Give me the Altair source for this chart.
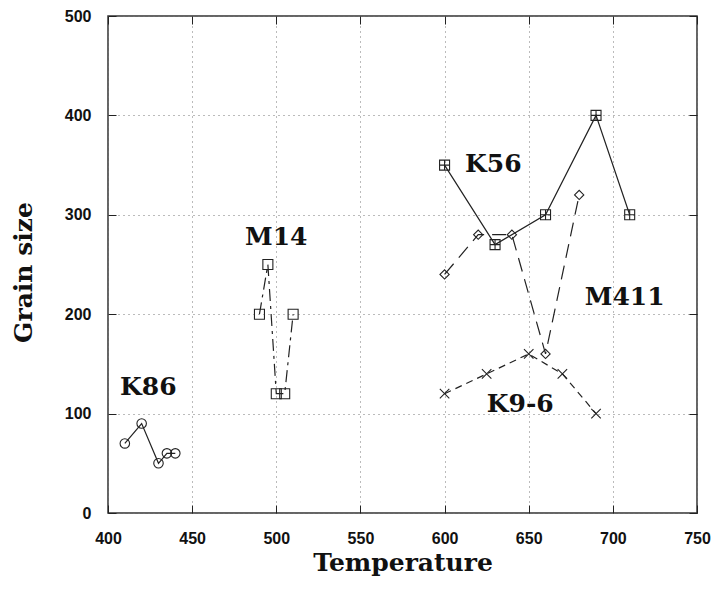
import altair as alt
import pandas as pd

# ---- data ----
k86_x = [410, 420, 430, 435, 440]
k86_y = [70, 90, 50, 60, 60]

m14_x = [490, 495, 500, 505, 510]
m14_y = [200, 250, 120, 120, 200]

k56_x = [600, 630, 660, 690, 710]
k56_y = [350, 270, 300, 400, 300]

m411_x = [600, 620, 640, 660, 680]
m411_y = [240, 280, 280, 160, 320]

k96_x = [600, 625, 650, 670, 690]
k96_y = [120, 140, 160, 140, 100]

label_text = ["K86", "M14", "K56", "M411", "K9-6"]
label_x = [424, 500, 629, 707, 645]
label_y = [119, 270, 343, 209, 102]

x_ticks = [400, 450, 500, 550, 600, 650, 700, 750]
y_ticks = [0, 100, 200, 300, 400, 500]

INK = "#222222"

xscale = alt.Scale(domain=[400, 750], nice=False, zero=False)
yscale = alt.Scale(domain=[0, 500], nice=False)

xaxis = alt.Axis(values=x_ticks, orient="bottom", offset=-8, tickSize=8, tickColor=INK,
                 tickWidth=1, domain=False, grid=True, gridColor="#777777",
                 gridDash=[1, 4], gridWidth=1, labelFont="Liberation Sans",
                 labelFontWeight="bold", labelFontSize=16, labelColor="#111111",
                 labelPadding=17, labelFlush=False, title="Temperature",
                 titleFont="DejaVu Serif", titleFontWeight="bold", titleFontSize=25,
                 titleColor="#111111", titlePadding=4)
yaxis = alt.Axis(values=y_ticks, orient="left", offset=-8, tickSize=8, tickColor=INK,
                 tickWidth=1, domain=False, grid=True, gridColor="#777777",
                 gridDash=[1, 4], gridWidth=1, labelFont="Liberation Sans",
                 labelFontWeight="bold", labelFontSize=16, labelColor="#111111",
                 labelPadding=17, labelFlush=False, title="Grain size",
                 titleFont="DejaVu Serif", titleFontWeight="bold", titleFontSize=25,
                 titleColor="#111111", titlePadding=28, titleY=256)


def series(xs, ys, dash, shape, size):
    df = pd.DataFrame({"x": xs, "y": ys, "o": list(range(len(xs)))})
    base = alt.Chart(df).encode(
        x=alt.X("x:Q", scale=xscale, axis=xaxis),
        y=alt.Y("y:Q", scale=yscale, axis=yaxis),
        order="o:Q",
    )
    line_kw = dict(color=INK, strokeWidth=1.2)
    if dash:
        line_kw["strokeDash"] = dash
    line = base.mark_line(**line_kw)
    pts = base.mark_point(shape=shape, size=size, filled=False, color=INK,
                          strokeWidth=1.1, opacity=1)
    return [line, pts]


SQ_PLUS = "M-1,-1H1V1H-1Z M-1,0H1 M0,-1V1"
CROSS_X = "M-1,-1L1,1M-1,1L1,-1"

layers = []
layers += series(k86_x, k86_y, None, "circle", 90)
layers += series(m14_x, m14_y, [12, 5, 3, 5], "square", 100)
layers += series(k56_x, k56_y, None, SQ_PLUS, 100)
layers += series(m411_x, m411_y, [14, 8], "diamond", 85)
layers += series(k96_x, k96_y, [7, 5], CROSS_X, 90)

lab_df = pd.DataFrame({"t": label_text, "x": label_x, "y": label_y})
labels = alt.Chart(lab_df).mark_text(
    font="DejaVu Serif", fontWeight="bold", fontSize=25, color="#111111",
    align="center", baseline="alphabetic"
).encode(
    x=alt.X("x:Q", scale=xscale, axis=xaxis),
    y=alt.Y("y:Q", scale=yscale, axis=yaxis),
    text="t:N",
)
layers.append(labels)

main = alt.layer(*layers)

# top / right inward ticks
tick_df = pd.DataFrame({"x": k56_x, "y": k56_y})
frame_ticks = alt.Chart(tick_df).mark_point(opacity=0).encode(
    x=alt.X("x:Q", scale=xscale,
            axis=alt.Axis(values=x_ticks, orient="top", offset=-8, tickSize=8,
                          tickColor=INK, tickWidth=1, domain=False, grid=False,
                          labels=False, title=None)),
    y=alt.Y("y:Q", scale=yscale,
            axis=alt.Axis(values=y_ticks, orient="right", offset=-8, tickSize=8,
                          tickColor=INK, tickWidth=1, domain=False, grid=False,
                          labels=False, title=None)),
)

chart = alt.layer(main, frame_ticks).resolve_axis(
    x="independent", y="independent"
).properties(
    width=589, height=497,
    background="white",
    autosize=alt.AutoSizeParams(type="none"),
    padding={"left": 100, "top": 8, "right": 14, "bottom": 65},
).configure_view(
    stroke="#333333", strokeWidth=1.5
)

chart.save("out.html", embed_options={"renderer": "svg", "actions": False})
